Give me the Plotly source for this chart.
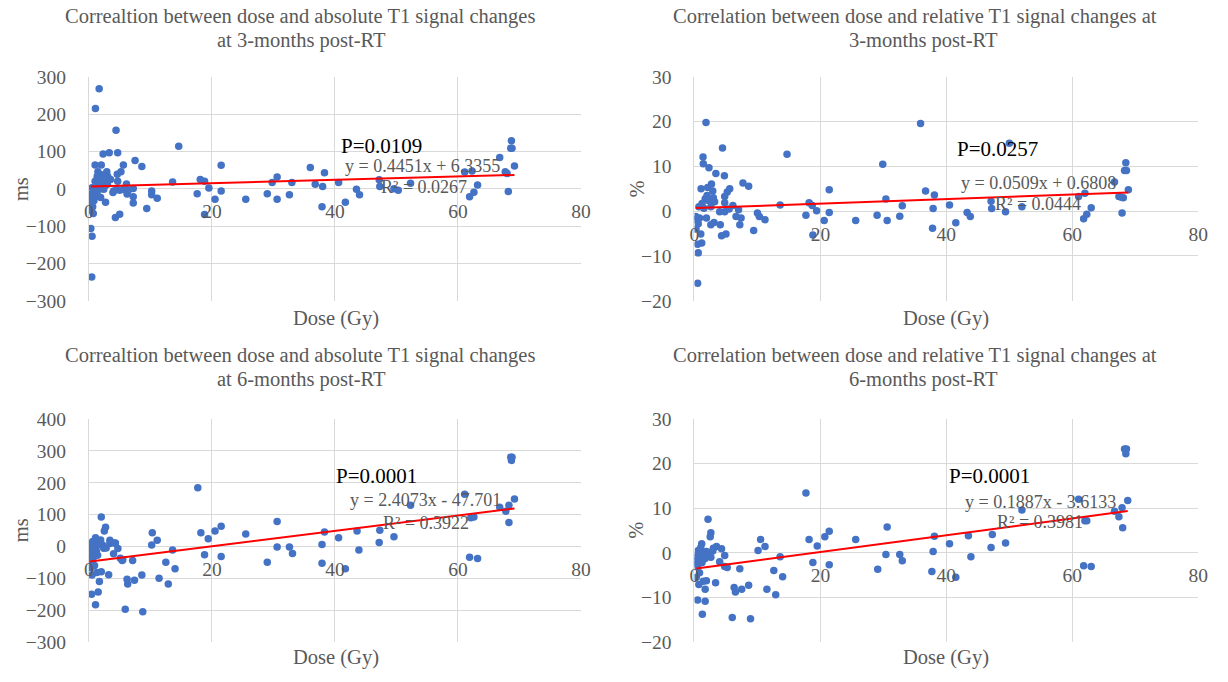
import plotly.graph_objects as go

# ---------------- data ----------------
dose_abs_3m = [1.66, 1.05, 4.4, 2.3, 3.3, 4.67, 14.6, 21.5, 7.5, 8.6, 1.0, 2.0, 5.6, 5.2, 4.6, 2.9, 1.45, 2.0, 1.34,
               3.06, 3.5, 2.4, 1.0, 1.9, 4.67, 6.1, 0.5, 0.4, 1.3, 1.9, 0.8, 0.3, 0.4, 0.7, 0.3, 0.5, 0.45, 2.7, 4.0,
               4.5, 5.0, 6.2, 6.4, 7.2, 7.2, 7.2, 10.2, 10.2, 11.1, 9.4, 4.3, 5.0, 3.9, 5.6, 2.4, 1.7, 0.8, 0.3, 0.4,
               1.2, 2.6, 3.0, 1.6, 2.8, 0.9, 1.5, 2.2, 0.6,
               13.6, 18.1, 18.8, 19.5, 17.6, 20.5, 21.5, 18.8, 25.5, 29.0, 29.8, 30.6, 30.6, 32.6, 33.0, 36.0, 38.3,
               36.8, 38.0, 37.9, 40.6, 41.7, 43.5, 44.0, 47.2, 47.3, 49.6, 50.3, 52.3, 61.1, 62.3, 61.9, 62.6, 63.2,
               66.8, 67.7, 68.0, 68.2, 68.7, 68.6, 68.8, 69.2]
abs_3m = [268, 215, 157, 93, 97, 97, 114, 63, 76, 60, 64, 64, 64, 46, 39, 46, 46, 38, 33,
          33, 25, 22, 20, 16, 20, 13, 3, -14, -19, -23, -32, -45, -58, -66, -106, -127, -236, -36, -6,
          -2, -4, -14, -4, 1, -21, -38, -6, -16, -25, -53, -77, -68, -10, -2, -1, -1, -5, -23, -35,
          10, 8, 12, 28, 28, -10, -20, 5, -48,
          18, 25, 20, 2, -13, -28, -6, -69, -28, -13, 17, 32, -28, -16, 17, 57, 43,
          12, 6, -48, 17, -36, -1, -16, 24, 6, 0, -4, 15, 45, 48, -21, -9, 10,
          84, 46, 41, -7, 129, 109, 109, 61]

dose_rel_3m = [1.83, 4.45, 1.36, 1.4, 2.3, 3.4, 4.75, 7.7, 8.6, 1.05, 2.1, 2.7, 2.9, 5.6, 5.2, 4.8, 1.7, 2.2, 3.2,
               4.8, 6.1, 1.2, 0.7, 1.5, 2.6, 4.0, 4.8, 5.5, 7.0, 6.6, 7.4, 7.2, 0.2, 0.24, 0.8, 1.9, 3.1, 2.6, 4.1,
               0.24, 1.15, 0.5, 0.6, 0.5, 4.3, 5.0, 10.0, 10.3, 11.2, 9.4, 1.0, 0.6, 2.0, 3.0,
               14.7, 13.6, 17.7, 18.2, 18.7, 19.4, 18.8, 20.6, 21.4, 21.4, 25.6, 29.0, 29.9, 30.4, 30.6, 32.6, 33.0,
               35.9, 36.7, 38.1, 37.9, 37.8, 40.5, 41.5, 43.3, 43.8, 47.1, 47.2, 49.4, 50.0, 52.0, 61.0, 62.0, 61.8,
               62.3, 63.0, 66.7, 67.4, 68.1, 67.8, 67.9, 68.3, 68.6, 68.5, 68.9]
rel_3m = [19.8, 14.1, 12.1, 10.6, 9.7, 8.4, 7.9, 6.3, 5.6, 5.0, 5.3, 6.1, 4.5, 5.0, 4.3, 3.3, 2.8, 2.4, 2.1,
          1.9, 1.3, 1.7, 1.0, 0.65, 1.0, -0.1, -0.1, 0.5, 0.3, -1.2, -1.5, -3.0, -1.2, -1.9, -1.5, -1.5, -2.5, -3.0, -3.0,
          -4.0, -7.1, -7.4, -9.3, -16.1, -5.5, -5.1, -0.4, -1.2, -1.9, -4.3, -5.1, -2.8, 3.5, 3.0,
          12.7, 1.4, -0.9, 1.9, 1.3, 0.1, -5.3, -2.1, -0.3, 4.8, -2.1, -0.9, 10.5, 2.7, -2.1, -1.1, 1.2,
          19.6, 4.5, 3.6, 0.6, -3.8, 1.4, -2.6, -0.3, -1.2, 2.2, 0.6, -0.1, 15.2, 1.0, 3.3, 4.0, -1.7,
          -0.7, 0.8, 6.5, 3.3, 3.0, 3.1, -0.4, 9.1, 9.1, 10.8, 4.8]

dose_abs_6m = [2.0, 2.7, 2.5, 1.07, 1.6, 1.5, 2.2, 2.4, 3.4, 3.4, 4.1, 4.3, 4.7, 4.0, 5.1, 5.5, 0.5, 0.3, 1.3, 2.0,
               1.7, 3.2, 1.5, 0.43, 1.07, 5.9, 8.75, 6.2, 6.3, 7.4, 8.6, 7.1, 5.4, 10.3, 11.1, 10.2, 12.5, 13.6, 14.0,
               11.4, 12.9, 0.3, 0.5, 0.8, 0.4, 1.0, 0.6, 1.2, 0.3, 0.7, 1.9, 2.8, 0.2, 1.4, 0.9, 0.5,
               17.7, 18.2, 19.4, 20.5, 21.5, 18.8, 21.5, 25.5, 29.0, 30.6, 30.6, 32.6, 33.1, 38.3, 37.9, 37.9, 40.6,
               41.7, 43.6, 43.9, 47.3, 47.2, 49.6, 52.3, 61.1, 62.1, 62.6, 61.9, 63.2, 66.8, 67.8, 68.3, 68.3, 69.2,
               68.6, 68.7, 68.8]
abs_6m = [92, 60, 48, 27, 4, 14, 4, -6, 19, 9, 11, 11, -7, -23, -37, -42, -47, -67, -82, -80,
          -110, -89, -143, -150, -183, -197, -205, -103, -118, -106, -90, -44, -44, 43, 19, 4, -50, -11, -70,
          -100, -118, -12, -20, -5, -30, 10, 15, -15, -25, -35, 20, -5, 5, -28, -60, -90,
          184, 43, 24, 48, 63, -26, -32, 39, -50, 78, -2, -2, -22, 45, 6, -53, 27,
          -70, 48, -11, 51, 12, 30, 129, 164, 90, 92, -34, -38, 123, 110, 129, 75, 149,
          280, 270, 280]

dose_rel_6m = [2.15, 2.6, 2.5, 1.15, 3.5, 4.3, 4.8, 4.0, 4.8, 5.2, 7.2, 0.6, 0.4, 0.9, 1.4, 1.9, 2.2, 2.9, 1.7, 0.4,
               0.5, 1.4, 1.9, 3.35, 1.7, 0.5, 1.7, 1.25, 0.7, 6.3, 6.5, 7.5, 8.6, 6.0, 8.9, 10.1, 10.5, 11.2, 11.5,
               12.6, 12.9, 14.0, 13.6, 0.3, 1.0, 0.8, 0.3, 1.2, 2.6, 3.0, 0.6,
               17.7, 18.2, 19.5, 18.8, 20.7, 21.4, 21.4, 25.6, 29.1, 30.6, 30.4, 32.6, 33.0, 38.1, 37.9, 37.7, 40.5,
               41.5, 43.5, 43.9, 47.3, 47.1, 49.4, 52.0, 61.0, 62.0, 62.3, 61.8, 63.0, 66.7, 67.4, 67.9, 68.0, 68.8,
               68.3, 68.6, 68.5]
rel_6m = [7.5, 4.5, 3.6, 2.0, 1.4, 0.9, -0.6, -2.0, -3.1, -3.3, -3.6, 0.5, -0.9, -1.5, -0.2, 0.3, -0.4, 0.4, -1.3, -2.4,
          -3.1, -6.4, -6.3, -6.7, -8.2, -10.6, -10.9, -13.8, -7.1, -7.8, -8.8, -8.2, -7.3, -14.5, -14.8, 0.5, 3.0, 1.4, -8.2,
          -4.0, -9.4, -5.4, -0.9, -1.8, 1.2, -4.5, -5.5, -2.2, -1.0, 1.0, -0.3,
          13.4, 3.0, 1.5, -2.2, 3.6, 4.8, -2.7, 3.0, -3.7, 5.8, -0.4, -0.4, -1.8, 3.7, 0.3, -4.2, 2.0,
          -5.5, 3.8, -0.9, 4.1, 1.2, 2.2, 9.6, 12.0, 7.2, 7.2, -2.9, -3.1, 9.3, 8.1, 10.1, 5.6, 11.7,
          23.3, 23.3, 22.2]

title_lines = [("Correaltion between dose and absolute T1 signal changes", "at 3-months post-RT"),
               ("Correlation between dose and relative T1 signal changes at", "3-months post-RT"),
               ("Correaltion between dose and absolute T1 signal changes", "at 6-months post-RT"),
               ("Correlation between dose and relative T1 signal changes at", "6-months post-RT")]
y_titles = ["ms", "%", "ms", "%"]
x_title = "Dose (Gy)"
slopes = [0.4451, 0.0509, 2.4073, 0.1887]
intercepts = [6.3355, 0.6808, -47.701, -3.6133]
equations = ["y = 0.4451x + 6.3355", "y = 0.0509x + 0.6808", "y = 2.4073x - 47.701", "y = 0.1887x - 3.6133"]
r2_labels = ["R² = 0.0267", "R² = 0.0444", "R² = 0.3922", "R² = 0.3981"]
p_labels = ["P=0.0109", "P=0.0257", "P=0.0001", "P=0.0001"]
y_ranges = [(-300, 300), (-20, 30), (-300, 400), (-20, 30)]
y_dticks = [100, 10, 100, 10]
x_range = (0, 80)
x_dtick = 20

doses = [dose_abs_3m, dose_rel_3m, dose_abs_6m, dose_rel_6m]
values = [abs_3m, rel_3m, abs_6m, rel_6m]

# ---------------- layout geometry ----------------
W, H = 1228, 682
def px_x(p):
    return p / W
def px_y(p):
    return 1 - p / H

x_domains = [(85, 583), (698, 1208), (85, 583), (698, 1208)]
y_domains = [(69, 300), (69, 300), (422, 652), (422, 652)]
title_x = [299, 921, 299, 921]
title2_x = [300, 930, 300, 930]
title_y = [(7, 31), (7, 31), (356, 381), (356, 381)]
ytitle_pos = [(17, 185), (640, 185), (17, 537), (639, 537)]
xtitle_pos = [(335, 318), (953, 318), (335, 668), (953, 668)]
p_pos = [(381, 140), (1005, 143), (376, 481), (997, 481)]
eq_pos = [(423, 161), (1046, 179), (426, 506), (1048, 508)]
r2_pos = [(424, 183), (1046, 200), (426, 529), (1048, 528)]

SERIF = "Liberation Serif"
GRAY = "#595959"
GRID = "#D9D9D9"
BLUE = "#4472C4"

fig = go.Figure()
layout = dict(width=W, height=H, margin=dict(l=0, r=0, t=0, b=0),
              paper_bgcolor="white", plot_bgcolor="white", showlegend=False)
annotations = []

def note(text, x, y, size, color, angle=0):
    annotations.append(dict(text=text, x=px_x(x), y=px_y(y), xref="paper", yref="paper",
                            showarrow=False, xanchor="center", yanchor="middle", textangle=angle,
                            font=dict(family=SERIF, size=size, color=color)))

for i in range(4):
    sfx = "" if i == 0 else str(i + 1)
    xa, ya = "x" + sfx, "y" + sfx
    x0, x1 = min(doses[i]), max(doses[i])
    fig.add_trace(go.Scatter(x=doses[i], y=values[i], mode="markers", xaxis=xa, yaxis=ya,
                             marker=dict(color=BLUE, size=7.5), hoverinfo="skip"))
    fig.add_trace(go.Scatter(x=[x0, x1], y=[slopes[i] * x0 + intercepts[i], slopes[i] * x1 + intercepts[i]],
                             mode="lines", xaxis=xa, yaxis=ya, line=dict(color="#FF0000", width=2),
                             hoverinfo="skip"))
    yd = (px_y(y_domains[i][1]), px_y(y_domains[i][0]))
    ylo, yhi = y_ranges[i]
    zero_pos = yd[0] + (0 - ylo) / (yhi - ylo) * (yd[1] - yd[0])
    layout["xaxis" + sfx] = dict(domain=[px_x(x_domains[i][0]), px_x(x_domains[i][1])],
                                 range=list(x_range), dtick=x_dtick, tick0=0,
                                 anchor="free", position=zero_pos,
                                 showgrid=True, gridcolor=GRID, gridwidth=1,
                                 zeroline=False, showline=False, ticks="",
                                 ticklabelstandoff=9,
                                 tickfont=dict(family=SERIF, size=19.5, color=GRAY))
    layout["yaxis" + sfx] = dict(domain=list(yd), range=[ylo, yhi], dtick=y_dticks[i], tick0=0,
                                 anchor=xa, showgrid=True, gridcolor=GRID, gridwidth=1,
                                 zeroline=True, zerolinecolor=GRID, zerolinewidth=1,
                                 showline=True, linecolor=GRID, linewidth=1,
                                 ticks="", ticklabelstandoff=18,
                                 tickfont=dict(family=SERIF, size=19.5, color=GRAY))
    note(title_lines[i][0], title_x[i], title_y[i][0], 20.5, GRAY)
    note(title_lines[i][1], title2_x[i], title_y[i][1], 20.5, GRAY)
    note(y_titles[i], ytitle_pos[i][0], ytitle_pos[i][1], 20.5, GRAY, -90)
    note(x_title, xtitle_pos[i][0], xtitle_pos[i][1], 20.5, GRAY)
    note(p_labels[i], p_pos[i][0], p_pos[i][1], 21, "black")
    note(equations[i], eq_pos[i][0], eq_pos[i][1], 18, GRAY)
    note(r2_labels[i], r2_pos[i][0], r2_pos[i][1], 18, GRAY)

layout["annotations"] = annotations
fig.update_layout(**layout)
fig.write_html("out.html")
